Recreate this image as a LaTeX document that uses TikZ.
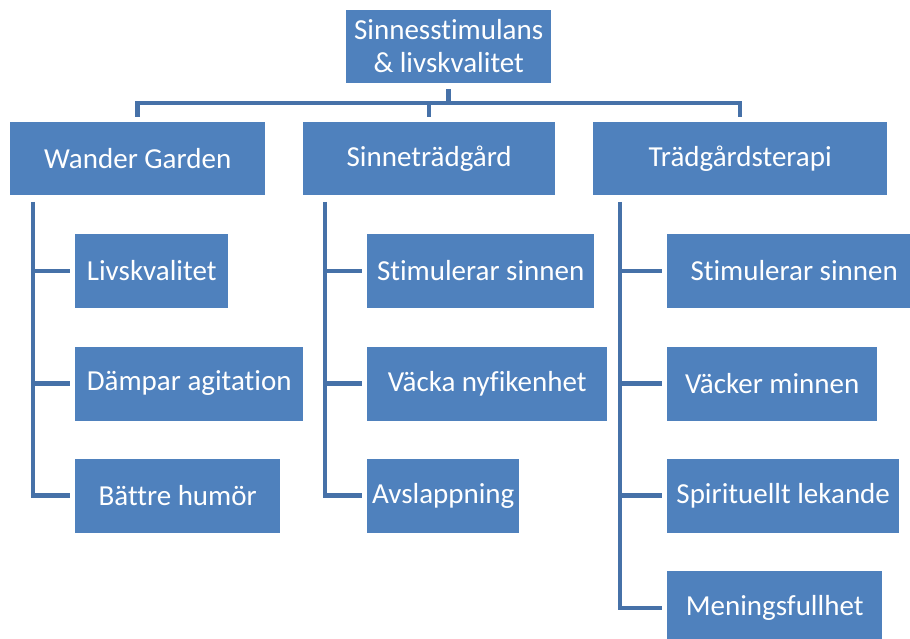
\documentclass[tikz,border=0pt]{standalone}
\usepackage{fontspec}
\setmainfont{Carlito}[Ligatures=NoCommon]
\definecolor{boxblue}{HTML}{4F81BD}
\definecolor{lineblue}{HTML}{4671A8}
\begin{document}
\begin{tikzpicture}[x=1pt,y=-1pt,
  box/.style={fill=boxblue, text=white, inner sep=0pt, anchor=west,
    font=\fontsize{29}{33}\selectfont, align=center},
  conn/.style={draw=lineblue, line width=4.5pt, line cap=butt, line join=miter}]
\fill[white] (0,0) rectangle (910,639);
\useasboundingbox (0,0) rectangle (910,639);
% top
\node[box, minimum width=205pt, minimum height=73pt] (top) at (346,46.5) {Sinnesstimulans\\\& livskvalitet};
% level 2
\node[box, minimum width=255pt, minimum height=73pt] (wg) at (10,158.5) {Wander Garden};
\node[box, minimum width=252pt, minimum height=73pt] (sg) at (303,158.5) {Sinneträdgård};
\node[box, minimum width=294pt, minimum height=73pt] (tr) at (593,158.5) {Trädgårdsterapi};
% level 3, column 1
\node[box, minimum width=153pt, minimum height=74pt] (a1) at (75,271) {Livskvalitet};
\node[box, minimum width=228pt, minimum height=74pt] (a2) at (75,383.5) {Dämpar agitation};
\node[box, minimum width=205pt, minimum height=74pt] (a3) at (75,495.5) {Bättre humör};
% column 2
\node[box, minimum width=227pt, minimum height=74pt] (b1) at (367,271) {Stimulerar sinnen};
\node[box, minimum width=240pt, minimum height=74pt] (b2) at (367,383.5) {Väcka nyfikenhet};
\node[box, minimum width=152pt, minimum height=74pt] (b3) at (367,495.5) {Avslappning};
% column 3
\node[box, minimum width=254pt, minimum height=74pt] (c1) at (667,271) {Stimulerar sinnen};
\node[box, minimum width=210pt, minimum height=74pt] (c2) at (667,383.5) {Väcker minnen};
\node[box, minimum width=232pt, minimum height=74pt] (c3) at (667,495.5) {Spirituellt lekande};
\node[box, minimum width=215pt, minimum height=74pt] (c4) at (667,608) {Meningsfullhet};
% top connectors
\coordinate (bar) at (448,103);
\draw[conn] ([yshift=-6pt]top.south) -- (top.south |- bar);
\draw[conn] ([yshift=5pt]wg.north) -- (wg.north |- bar) -- (tr.north |- bar) -- ([yshift=5pt]tr.north);
\draw[conn] ([yshift=5pt]sg.north) -- (sg.north |- bar);
% trunks
\coordinate (t1) at (33,202);
\coordinate (t2) at (325,202);
\coordinate (t3) at (620,202);
\draw[conn] (t1) |- ([xshift=-5pt]a3.west);
\draw[conn] (t1 |- a1.west) -- ([xshift=-5pt]a1.west);
\draw[conn] (t1 |- a2.west) -- ([xshift=-5pt]a2.west);
\draw[conn] (t2) |- ([xshift=-5pt]b3.west);
\draw[conn] (t2 |- b1.west) -- ([xshift=-5pt]b1.west);
\draw[conn] (t2 |- b2.west) -- ([xshift=-5pt]b2.west);
\draw[conn] (t3) |- ([xshift=-5pt]c4.west);
\draw[conn] (t3 |- c1.west) -- ([xshift=-5pt]c1.west);
\draw[conn] (t3 |- c2.west) -- ([xshift=-5pt]c2.west);
\draw[conn] (t3 |- c3.west) -- ([xshift=-5pt]c3.west);
\end{tikzpicture}
\end{document}
